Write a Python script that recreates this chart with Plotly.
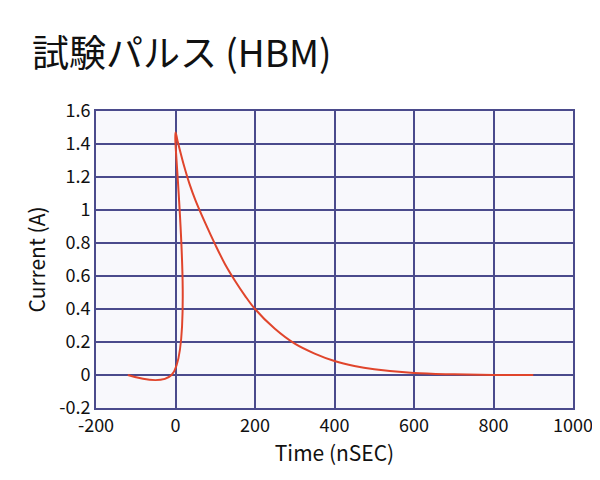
import plotly.graph_objects as go

# pulse waveform
time_ns = [-120, -10, 0, 5, 20, 35, 50, 75, 100, 125, 150, 175, 200, 250, 300, 350, 400, 450, 500, 600, 700, 800, 900]
current_a = [0, 0, 1.47, 1.42, 1.28, 1.16, 1.06, 0.92, 0.79, 0.67, 0.57, 0.48, 0.40, 0.28, 0.19, 0.13, 0.085, 0.055, 0.035, 0.012, 0.004, 0.0, 0.0]

x_ticks = [-200, 0, 200, 400, 600, 800, 1000]
y_ticks = [-0.2, 0, 0.2, 0.4, 0.6, 0.8, 1, 1.2, 1.4, 1.6]

fig = go.Figure()
fig.add_trace(go.Scatter(x=time_ns, y=current_a, mode="lines", line_shape="spline",
                         line=dict(color="#e0452c", width=2), showlegend=False))

grid = "#4b4b8c"
fig.update_xaxes(range=[-200, 1000], tickvals=x_ticks, ticktext=[str(v) for v in x_ticks],
                 showgrid=True, gridcolor=grid, gridwidth=1.5, zeroline=False,
                 showline=True, linecolor=grid, linewidth=2, mirror=True, automargin=False,
                 title=dict(text="Time (nSEC)", font=dict(size=21), standoff=6),
                 tickfont=dict(size=18))
fig.update_yaxes(range=[-0.2, 1.6], tickvals=y_ticks, ticktext=[f"{v:g}" for v in y_ticks],
                 showgrid=True, gridcolor=grid, gridwidth=1.5, zeroline=False,
                 showline=True, linecolor=grid, linewidth=2, mirror=True, automargin=False,
                 title=dict(text="Current (A)", font=dict(size=21), standoff=8),
                 tickfont=dict(size=18))

fig.update_layout(
    width=600, height=480,
    title=dict(text="試験パルス (HBM)", x=0.04, xanchor="left", y=0.905, yanchor="middle",
               font=dict(size=37, color="#111")),
    font=dict(family="Noto Sans CJK JP, Noto Sans", color="#111"),
    plot_bgcolor="#f8f8fc", paper_bgcolor="white",
    margin=dict(l=88, r=35, t=103, b=80),
)

fig.write_html("out.html")
